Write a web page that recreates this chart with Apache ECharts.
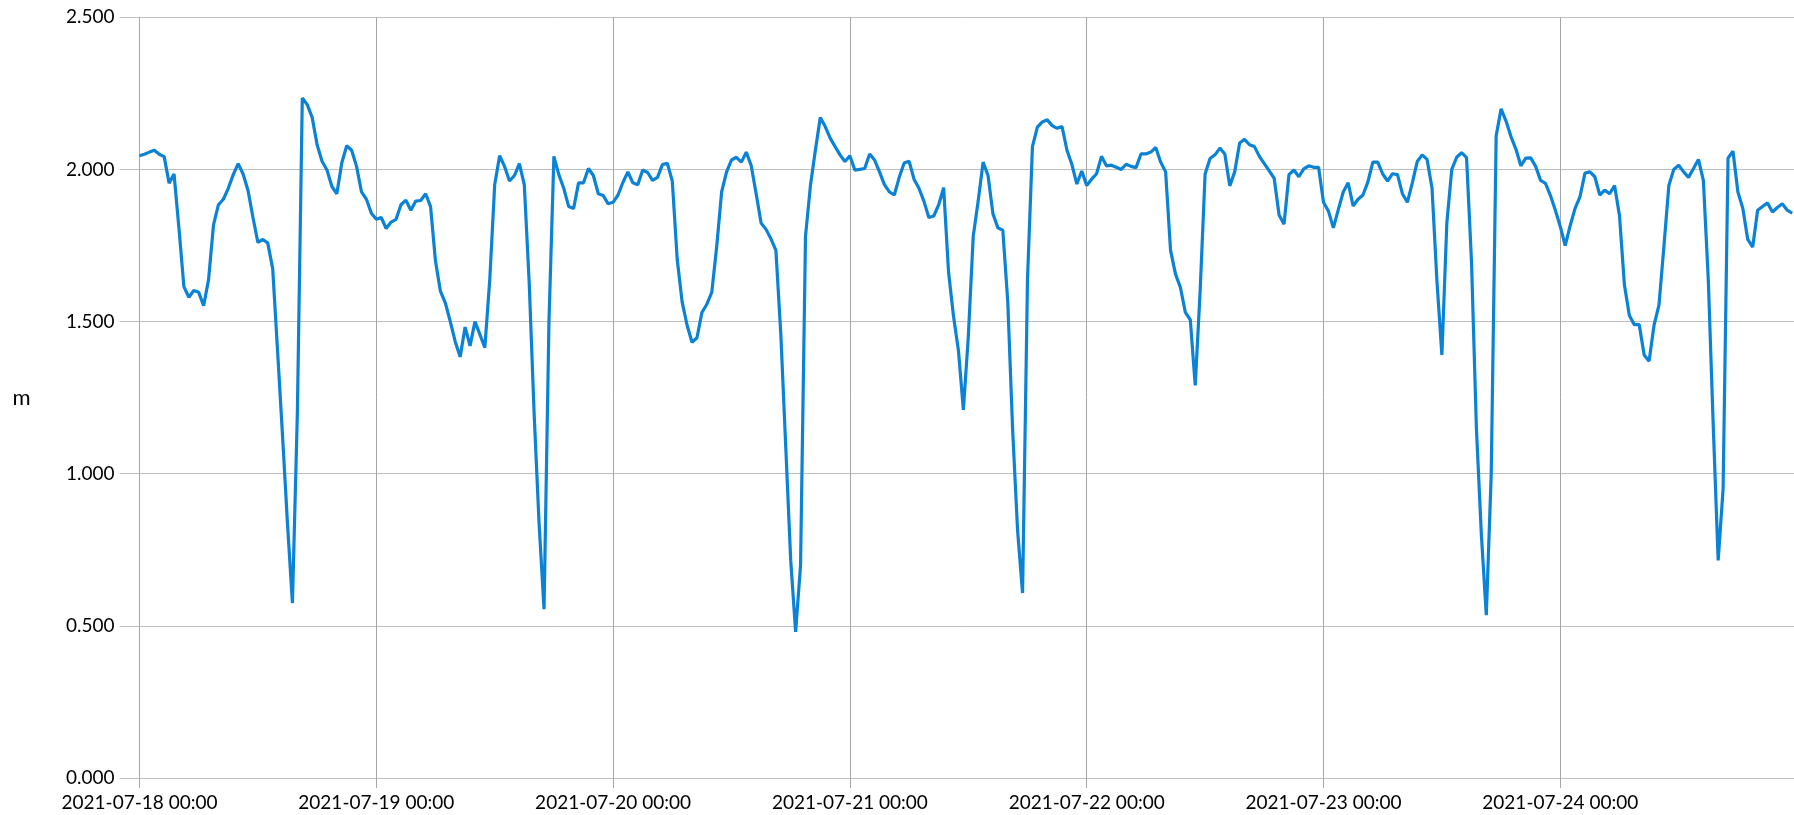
<!DOCTYPE html>
<html>
<head>
<meta charset="utf-8">
<script src="https://cdn.jsdelivr.net/npm/echarts@6/dist/echarts.min.js"></script>
<style>
html,body{margin:0;padding:0;background:#ffffff;}
#chart{width:1794px;height:815px;}
</style>
</head>
<body>
<div id="chart"></div>
<script>
// x tick labels (one per day boundary)
const tickLabels = ["2021-07-18 00:00","2021-07-19 00:00","2021-07-20 00:00","2021-07-21 00:00",
  "2021-07-22 00:00","2021-07-23 00:00","2021-07-24 00:00","2021-07-25 00:00"];
// sampling step in hours (values start at 2021-07-18 00:00)
const stepHours = 0.5;
// water level (m), half-hourly readings per day
const day18 = [2.045,2.05,2.057,2.063,2.05,2.042,1.955,1.985,1.806,1.615,1.58,1.602,
  1.596,1.552,1.638,1.818,1.884,1.902,1.938,1.983,2.019,1.985,1.931,1.842,
  1.76,1.77,1.758,1.674,1.40,1.123,0.835,0.575,1.2,2.235,2.213,2.171,
  2.081,2.027,1.998,1.944,1.92,2.021,2.078,2.063,2.01,1.926,1.902,1.856];
const day19 = [1.836,1.842,1.806,1.827,1.836,1.884,1.899,1.866,1.896,1.898,1.92,1.878,
  1.698,1.60,1.561,1.50,1.434,1.384,1.482,1.42,1.50,1.458,1.414,1.638,
  1.95,2.045,2.01,1.962,1.98,2.019,1.95,1.626,1.195,0.835,0.555,1.5,
  2.043,1.983,1.938,1.878,1.872,1.956,1.956,2.003,1.98,1.92,1.914,1.887];
const day20 = [1.892,1.916,1.958,1.992,1.956,1.95,1.998,1.99,1.964,1.974,2.016,2.02,
  1.962,1.704,1.564,1.488,1.432,1.447,1.53,1.557,1.596,1.746,1.926,1.992,
  2.031,2.04,2.024,2.057,2.012,1.92,1.824,1.803,1.772,1.734,1.458,1.087,
  0.716,0.48,0.7,1.78,1.947,2.063,2.171,2.141,2.103,2.075,2.048,2.026];
const day21 = [2.045,1.998,2.0,2.003,2.051,2.031,1.992,1.95,1.926,1.916,1.974,2.021,
  2.027,1.968,1.938,1.896,1.842,1.847,1.884,1.94,1.662,1.518,1.405,1.21,
  1.45,1.78,1.896,2.024,1.98,1.854,1.808,1.80,1.566,1.14,0.811,0.608,
  1.64,2.075,2.139,2.156,2.163,2.144,2.135,2.141,2.063,2.016,1.952,1.995];
const day22 = [1.947,1.968,1.986,2.043,2.012,2.014,2.007,2.0,2.017,2.01,2.006,2.051,
  2.051,2.057,2.072,2.024,1.992,1.734,1.656,1.612,1.53,1.506,1.29,1.602,
  1.985,2.036,2.048,2.07,2.051,1.946,1.992,2.087,2.099,2.081,2.075,2.043,
  2.019,1.995,1.971,1.85,1.82,1.983,1.998,1.976,2.002,2.012,2.007,2.007];
const day23 = [1.892,1.863,1.808,1.868,1.926,1.956,1.88,1.902,1.916,1.959,2.024,2.024,
  1.985,1.962,1.986,1.983,1.92,1.892,1.956,2.026,2.048,2.033,1.938,1.632,
  1.39,1.824,2.0,2.04,2.055,2.039,1.698,1.147,0.80,0.535,1.0,2.111,
  2.199,2.159,2.108,2.067,2.012,2.037,2.038,2.01,1.964,1.954,1.914,1.866];
const day24 = [1.812,1.75,1.815,1.872,1.911,1.988,1.992,1.976,1.916,1.932,1.92,1.947,
  1.848,1.62,1.52,1.49,1.49,1.39,1.37,1.488,1.554,1.746,1.947,2.0,
  2.014,1.992,1.974,2.003,2.033,1.964,1.638,1.159,0.715,0.95,2.037,2.06,
  1.926,1.872,1.77,1.745,1.866,1.878,1.89,1.86,1.875,1.887,1.866,1.856];

const values = [].concat(day18, day19, day20, day21, day22, day23, day24);
const seriesData = values.map((v, i) => [i * stepHours, v]);

const chart = echarts.init(document.getElementById('chart'), null, {renderer: 'canvas'});
const FONT = 'Lato';
chart.setOption({
  animation: false,
  backgroundColor: '#ffffff',
  grid: {left: 139.5, top: 17.3, width: 1657.6, height: 760.7, containLabel: false, outerBoundsMode: 'none'},
  xAxis: {
    type: 'value', min: 0, max: 168, interval: 24,
    axisLine: {show: true, onZero: false, lineStyle: {color: '#bfbfbf', width: 1}},
    axisTick: {show: true, length: 10, lineStyle: {color: '#a6a6a6'}},
    axisLabel: {
      formatter: (v) => { const i = Math.round(v / 24); return i < 7 ? tickLabels[i] : ''; },
      fontSize: 19, color: '#000000', margin: 15, fontFamily: FONT
    },
    splitLine: {show: true, lineStyle: {color: '#a6a6a6', width: 1}}
  },
  yAxis: {
    type: 'value', min: 0, max: 2.5, interval: 0.5,
    name: 'm', nameLocation: 'middle', nameGap: 109, nameRotate: 0,
    nameTextStyle: {fontSize: 22, color: '#000000', fontFamily: FONT},
    axisLine: {show: true, lineStyle: {color: '#a6a6a6', width: 1}},
    axisTick: {show: true, length: 20, lineStyle: {color: '#bfbfbf'}},
    axisLabel: {formatter: (v) => v.toFixed(3), fontSize: 19, color: '#000000', margin: 25, fontFamily: FONT},
    splitLine: {show: true, lineStyle: {color: '#bfbfbf', width: 1}}
  },
  series: [{
    type: 'line', data: seriesData, showSymbol: false, smooth: false,
    lineStyle: {color: '#0a82d6', width: 3.2}, itemStyle: {color: '#0a82d6'}
  }]
});
</script>
</body>
</html>
